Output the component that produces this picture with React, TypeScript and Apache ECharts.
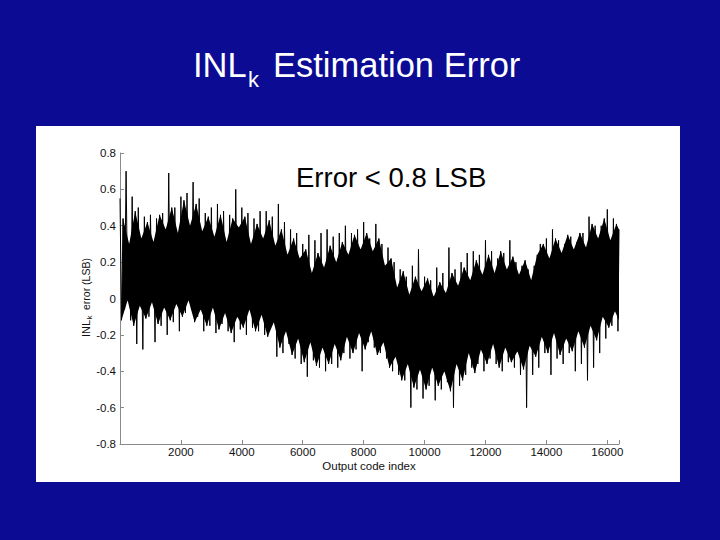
import React, { useEffect, useRef } from "react";
import * as echarts from "echarts";

// ---- data ----
const X_TICK_LABELS = [2000, 4000, 6000, 8000, 10000, 12000, 14000, 16000];
const X_MAX = 16384;

// Each block of SPIKE_STEP codes holds four readings:
// tall peak, edge of the solid band (low), edge of the solid band (high), deep trough
const SPIKE_STEP = 200;
const spikeHigh = [
  0.55, 0.7, 0.56, 0.5, 0.45, 0.46, 0.44, 0.47, 0.69, 0.5,
  0.56, 0.58, 0.64, 0.55, 0.47, 0.5, 0.52, 0.48, 0.46, 0.6,
  0.5, 0.47, 0.44, 0.48, 0.48, 0.45, 0.52, 0.42, 0.38, 0.36,
  0.3, 0.35, 0.32, 0.36, 0.38, 0.34, 0.36, 0.4, 0.36, 0.38,
  0.42, 0.33, 0.41, 0.3, 0.28, 0.2, 0.16, 0.12, 0.18, 0.27,
  0.12, 0.1, 0.17, 0.14, 0.28, 0.16, 0.2, 0.25, 0.26, 0.24,
  0.32, 0.26, 0.22, 0.25, 0.32, 0.2, 0.18, 0.16, 0.18, 0.3,
  0.33, 0.38, 0.32, 0.3, 0.34, 0.31, 0.36, 0.45, 0.4, 0.4,
  0.49, 0.44,
];
const midLow = [
  -0.12, -0.01, -0.15, -0.04, -0.11, -0.02, -0.14, -0.05, -0.12, -0.03,
  -0.1, -0.01, -0.13, -0.06, -0.15, -0.05, -0.17, -0.08, -0.19, -0.1,
  -0.16, -0.06, -0.18, -0.09, -0.21, -0.13, -0.27, -0.18, -0.31, -0.22,
  -0.35, -0.24, -0.37, -0.27, -0.36, -0.25, -0.34, -0.21, -0.3, -0.19,
  -0.28, -0.18, -0.31, -0.24, -0.38, -0.32, -0.45, -0.36, -0.49, -0.39,
  -0.5, -0.38, -0.48, -0.4, -0.51, -0.36, -0.45, -0.3, -0.41, -0.28,
  -0.36, -0.25, -0.38, -0.27, -0.35, -0.29, -0.39, -0.26, -0.32, -0.21,
  -0.3, -0.19, -0.31, -0.22, -0.29, -0.18, -0.27, -0.15, -0.23, -0.1,
  -0.16, -0.07,
];
const midHigh = [
  0.44, 0.3, 0.48, 0.33, 0.42, 0.31, 0.46, 0.38, 0.5, 0.36,
  0.54, 0.4, 0.52, 0.37, 0.45, 0.34, 0.46, 0.31, 0.44, 0.39,
  0.45, 0.3, 0.41, 0.33, 0.43, 0.29, 0.38, 0.24, 0.33, 0.22,
  0.27, 0.14, 0.25, 0.17, 0.29, 0.2, 0.31, 0.24, 0.35, 0.27,
  0.36, 0.26, 0.33, 0.18, 0.22, 0.06, 0.15, 0.02, 0.12, 0.04,
  0.11, 0.01, 0.09, 0.03, 0.14, 0.07, 0.17, 0.1, 0.21, 0.13,
  0.24, 0.14, 0.26, 0.16, 0.23, 0.13, 0.21, 0.1, 0.24, 0.3,
  0.22, 0.33, 0.25, 0.35, 0.27, 0.36, 0.28, 0.41, 0.33, 0.44,
  0.32, 0.41,
];
const spikeLow = [
  -0.06, -0.12, -0.25, -0.28, -0.1, -0.24, -0.15, -0.2, -0.13, -0.18,
  -0.08, -0.06, -0.1, -0.18, -0.15, -0.19, -0.14, -0.18, -0.24, -0.17,
  -0.2, -0.16, -0.18, -0.2, -0.15, -0.32, -0.3, -0.25, -0.33, -0.36,
  -0.43, -0.34, -0.38, -0.4, -0.36, -0.38, -0.3, -0.33, -0.28, -0.4,
  -0.24, -0.27, -0.3, -0.33, -0.4, -0.42, -0.45, -0.6, -0.5, -0.55,
  -0.48, -0.56, -0.5, -0.46, -0.6, -0.48, -0.42, -0.38, -0.36, -0.4,
  -0.33, -0.36, -0.4, -0.35, -0.38, -0.42, -0.6, -0.42, -0.38, -0.3,
  -0.42, -0.33, -0.36, -0.3, -0.4, -0.36, -0.45, -0.38, -0.3, -0.22,
  -0.15, -0.18,
];
// band edges at the last code
const END_HIGH = 0.38;
const END_LOW = -0.12;

const BG = "#0b0b94";
const FONT = "'Liberation Sans', Arial, Helvetica, sans-serif";

export default function App() {
  const ref = useRef<HTMLDivElement>(null);

  useEffect(() => {
    if (!ref.current) return;
    const chart = echarts.init(ref.current, null, { renderer: "svg" });

    const q = SPIKE_STEP / 4;
    const zigzag: number[][] = [];
    spikeHigh.forEach((v, i) => {
      const base = i * SPIKE_STEP;
      zigzag.push([base, v]);
      zigzag.push([base + q, midLow[i]]);
      zigzag.push([base + 2 * q, midHigh[i]]);
      zigzag.push([base + 3 * q, spikeLow[i]]);
    });
    zigzag.push([X_MAX, END_HIGH]);

    const axisGray = "#8a8a8a";

    chart.setOption({
      animation: false,
      backgroundColor: BG,
      grid: { left: 120, top: 153, width: 499, height: 291, containLabel: false },
      xAxis: {
        type: "value",
        min: 0,
        max: X_MAX,
        interval: 2000,
        splitLine: { show: false },
        axisLine: { show: true, onZero: false, lineStyle: { color: axisGray, width: 1 } },
        axisTick: { show: true, inside: true, length: 4, lineStyle: { color: axisGray } },
        axisLabel: {
          margin: 2,
          color: "#111",
          fontSize: 11.5,
          fontFamily: FONT,
          formatter: (v: number) => (X_TICK_LABELS.indexOf(v) >= 0 ? String(v) : ""),
        },
      },
      yAxis: {
        type: "value",
        min: -0.8,
        max: 0.8,
        interval: 0.2,
        splitLine: { show: false },
        axisLine: { show: true, onZero: false, lineStyle: { color: axisGray, width: 1 } },
        axisTick: { show: true, inside: true, length: 4, lineStyle: { color: axisGray } },
        axisLabel: {
          margin: 4,
          color: "#111",
          fontSize: 11.5,
          fontFamily: FONT,
          formatter: (v: number) => String(Math.round(v * 10) / 10),
        },
      },
      graphic: [
        {
          type: "rect",
          z: -10,
          shape: { x: 36, y: 126, width: 644, height: 356 },
          style: { fill: "#ffffff" },
        },
        {
          type: "text",
          x: 193,
          y: 65,
          style: { text: "INL", fill: "#fff", font: `34.5px ${FONT}`, verticalAlign: "middle", align: "left" },
        },
        {
          type: "text",
          x: 248,
          y: 79.5,
          style: { text: "k", fill: "#fff", font: `22px ${FONT}`, verticalAlign: "middle", align: "left" },
        },
        {
          type: "text",
          x: 273,
          y: 65,
          style: { text: "Estimation Error", fill: "#fff", font: `34.5px ${FONT}`, verticalAlign: "middle", align: "left" },
        },
        {
          type: "text",
          x: 296,
          y: 177.5,
          z: 100,
          style: { text: "Error < 0.8 LSB", fill: "#000", font: `27.5px ${FONT}`, verticalAlign: "middle", align: "left" },
        },
        {
          type: "text",
          x: 369,
          y: 466,
          z: 100,
          style: { text: "Output code index", fill: "#111", font: `11.5px ${FONT}`, verticalAlign: "middle", align: "center" },
        },
        {
          type: "group",
          x: 86,
          y: 337,
          rotation: Math.PI / 2,
          z: 100,
          children: [
            {
              type: "text",
              x: 0,
              y: 0,
              style: { text: "INL", fill: "#111", font: `11px ${FONT}`, verticalAlign: "middle", align: "left" },
            },
            {
              type: "text",
              x: 17.5,
              y: 3.5,
              style: { text: "k", fill: "#111", font: `8px ${FONT}`, verticalAlign: "middle", align: "left" },
            },
            {
              type: "text",
              x: 27,
              y: 0,
              style: { text: "error (LSB)", fill: "#111", font: `10.5px ${FONT}`, verticalAlign: "middle", align: "left" },
            },
          ],
        },
      ],
      series: [
        {
          // solid band between the band-edge readings
          type: "custom",
          coordinateSystem: "cartesian2d",
          data: [[0, 0]],
          z: 2,
          renderItem: (_params: any, api: any) => {
            const pts: number[][] = [];
            midHigh.forEach((v, i) => pts.push(api.coord([i * SPIKE_STEP + 2 * q, v])));
            pts.push(api.coord([X_MAX, END_HIGH]));
            pts.push(api.coord([X_MAX, END_LOW]));
            for (let i = midLow.length - 1; i >= 0; i--) {
              pts.push(api.coord([i * SPIKE_STEP + q, midLow[i]]));
            }
            return { type: "polygon", shape: { points: pts }, style: { fill: "#000" } };
          },
        },
        {
          type: "line",
          data: zigzag,
          showSymbol: false,
          symbol: "none",
          z: 3,
          lineStyle: { color: "#000", width: 1 },
        },
      ],
    });

    return () => chart.dispose();
  }, []);

  return (
    <div
      ref={ref}
      style={{ position: "fixed", left: 0, top: 0, width: 720, height: 540 }}
    />
  );
}
